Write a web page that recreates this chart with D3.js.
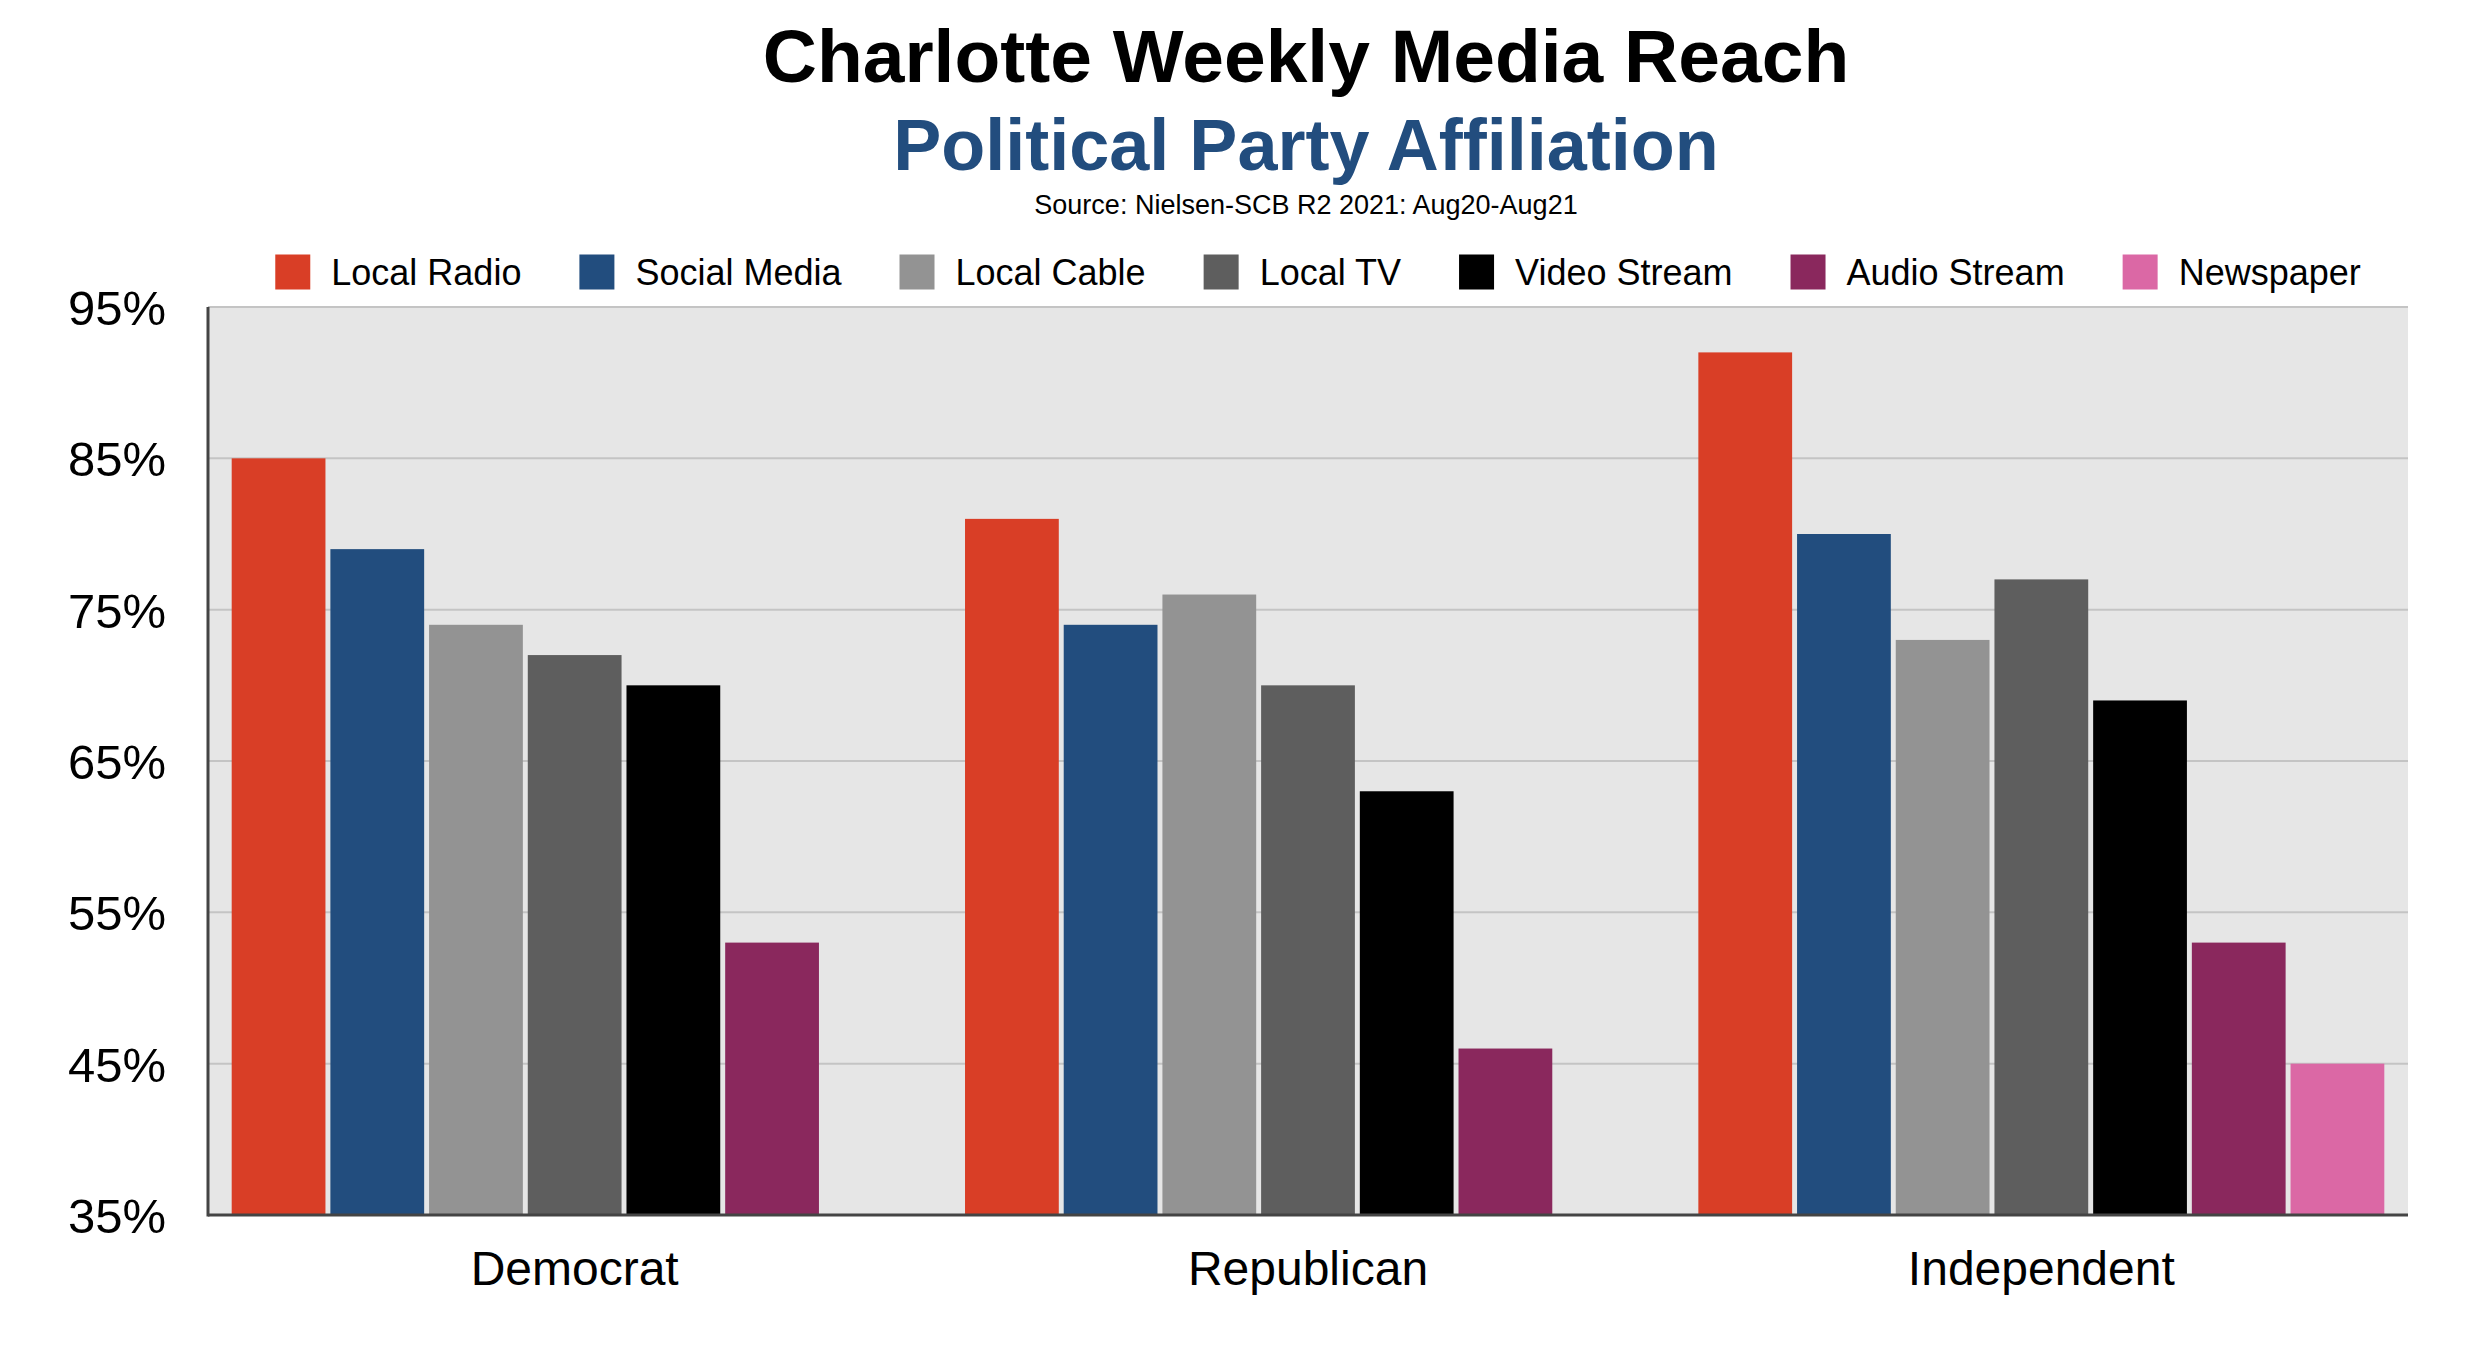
<!DOCTYPE html>
<html>
<head>
<meta charset="utf-8">
<script src="https://cdn.jsdelivr.net/npm/d3@7"></script>
<style>
  html, body { margin: 0; padding: 0; background: #fff; }
  svg { display: block; font-family: "Liberation Sans", Arial, Helvetica, sans-serif; }
</style>
</head>
<body>
<svg id="chart" width="2468" height="1360"></svg>
<script>
const categories = ["Democrat", "Republican", "Independent"];
const seriesNames = ["Local Radio", "Social Media", "Local Cable", "Local TV", "Video Stream", "Audio Stream", "Newspaper"];
const seriesColors = ["#D93E26", "#224D7E", "#939393", "#5E5E5E", "#000000", "#8A285D", "#DB68A5"];
const localRadio  = [85, 81, 92];
const socialMedia = [79, 74, 80];
const localCable  = [74, 76, 73];
const localTV     = [72, 70, 77];
const videoStream = [70, 63, 69];
const audioStream = [53, 46, 53];
const newspaper   = [null, null, 45];
const yTicks = [35, 45, 55, 65, 75, 85, 95];

const seriesValues = [localRadio, socialMedia, localCable, localTV, videoStream, audioStream, newspaper];

const svg = d3.select("#chart");
const W = 2468, H = 1360;
const margin = {left: 208, right: 60, top: 307, bottom: 145};
const plotW = W - margin.left - margin.right;
const plotH = H - margin.top - margin.bottom;

const x0 = d3.scaleBand().domain(categories).range([margin.left, margin.left + plotW]).padding(0);
const x1 = d3.scaleBand().domain(seriesNames).range([0, x0.bandwidth()]).paddingInner(0.05).paddingOuter(0.24);
const y = d3.scaleLinear().domain([35, 95]).range([margin.top + plotH, margin.top]);
const color = d3.scaleOrdinal().domain(seriesNames).range(seriesColors);

// Titles
svg.append("text").attr("x", 1306).attr("y", 82).attr("text-anchor", "middle")
  .attr("font-size", 75).attr("font-weight", "bold").attr("fill", "#000")
  .text("Charlotte Weekly Media Reach");
svg.append("text").attr("x", 1306).attr("y", 170).attr("text-anchor", "middle")
  .attr("font-size", 72).attr("font-weight", "bold").attr("fill", "#224D7E")
  .text("Political Party Affiliation");
svg.append("text").attr("x", 1306).attr("y", 214).attr("text-anchor", "middle")
  .attr("font-size", 27).attr("fill", "#000")
  .text("Source: Nielsen-SCB R2 2021: Aug20-Aug21");

// Plot background
svg.append("rect").attr("x", margin.left).attr("y", margin.top)
  .attr("width", plotW).attr("height", plotH).attr("fill", "#E6E6E6");

// Gridlines
svg.append("g").selectAll("line").data(yTicks.filter(t => t > 35)).join("line")
  .attr("x1", margin.left).attr("x2", margin.left + plotW)
  .attr("y1", d => y(d)).attr("y2", d => y(d))
  .attr("stroke", "#C4C4C4").attr("stroke-width", 2);

// Bars
const rows = [];
categories.forEach((c, ci) => {
  seriesNames.forEach((s, si) => {
    const v = seriesValues[si][ci];
    if (v != null) rows.push({cat: c, series: s, value: v});
  });
});
svg.append("g").selectAll("rect").data(rows).join("rect")
  .attr("x", d => x0(d.cat) + x1(d.series))
  .attr("width", x1.bandwidth())
  .attr("y", d => y(d.value))
  .attr("height", d => y(35) - y(d.value))
  .attr("fill", d => color(d.series));

// Y axis
const yAxis = d3.axisLeft(y).tickValues(yTicks).tickFormat(d => d + "%").tickSize(0).tickPadding(42);
const gy = svg.append("g").attr("transform", `translate(${margin.left},0)`).call(yAxis);
gy.select(".domain").remove();
gy.selectAll("text").attr("font-size", 49).attr("fill", "#000")
  .attr("font-family", '"Liberation Sans", Arial, sans-serif').attr("dy", "0.36em");

// X axis
const xAxis = d3.axisBottom(x0).tickSize(0).tickPadding(36);
const gx = svg.append("g").attr("transform", `translate(0,${margin.top + plotH})`).call(xAxis);
gx.select(".domain").remove();
gx.selectAll("text").attr("font-size", 48).attr("fill", "#000")
  .attr("font-family", '"Liberation Sans", Arial, sans-serif').attr("dy", "0.71em");

// Axis lines
svg.append("line").attr("x1", margin.left).attr("x2", margin.left)
  .attr("y1", margin.top).attr("y2", margin.top + plotH + 1.5)
  .attr("stroke", "#444").attr("stroke-width", 3);
svg.append("line").attr("x1", margin.left).attr("x2", margin.left + plotW)
  .attr("y1", margin.top + plotH).attr("y2", margin.top + plotH)
  .attr("stroke", "#444").attr("stroke-width", 3);

// Legend
const legend = svg.append("g");
const swatch = 35, swGap = 21, itemGap = 58, legendFont = 36, legendY = 272;
let cx = 0;
seriesNames.forEach((s, i) => {
  const g = legend.append("g");
  g.append("rect").attr("x", 0).attr("y", -swatch / 2).attr("width", swatch).attr("height", swatch)
    .attr("fill", color(s));
  const t = g.append("text").attr("x", swatch + swGap).attr("y", 0).attr("dy", "0.36em")
    .attr("font-size", legendFont).attr("fill", "#000").text(s);
  const tw = t.node().getComputedTextLength();
  g.attr("transform", `translate(${cx},${legendY})`);
  cx += swatch + swGap + tw + itemGap;
});
const totalW = cx - itemGap;
legend.attr("transform", `translate(${1318 - totalW / 2},0)`);
</script>
</body>
</html>
